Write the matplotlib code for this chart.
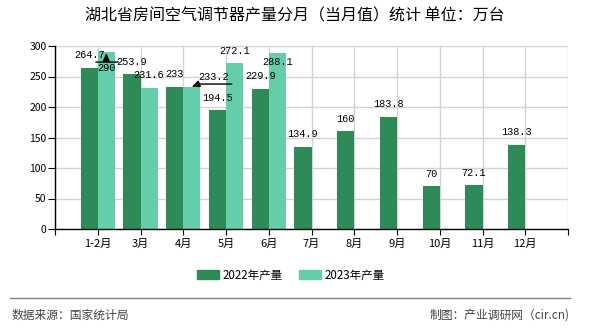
import matplotlib
matplotlib.use("Agg")
import matplotlib.pyplot as plt
import matplotlib.transforms as mtransforms
from matplotlib.patches import Rectangle
from matplotlib.lines import Line2D

plt.rcParams['font.family'] = ['Noto Sans CJK SC', 'DejaVu Sans']

categories = ['1-2月', '3月', '4月', '5月', '6月', '7月', '8月', '9月', '10月', '11月', '12月']
v2022 = [264.7, 253.9, 233, 194.5, 229.9, 134.9, 160, 183.8, 70, 72.1, 138.3]
v2023 = [290, 231.6, 233.2, 272.1, 288.1]
series_names = ['2022年产量', '2023年产量']
title = '湖北省房间空气调节器产量分月（当月值）统计 单位：万台'
source_left = '数据来源：国家统计局'
source_right = '制图：产业调研网（cir.cn)'

c22 = '#2e8b57'
c23 = '#66cdaa'

W, H, DPI = 590, 330, 100
fig = plt.figure(figsize=(W / DPI, H / DPI), dpi=DPI)
ax = fig.add_axes([55 / W, 1 - 229 / H, (568 - 55) / W, (229 - 46) / H])

bw = 0.4
x = list(range(len(categories)))
b1 = ax.bar([i - bw / 2 for i in x], v2022, width=bw, color=c22, zorder=2)
b2 = ax.bar([i + bw / 2 for i in range(len(v2023))], v2023, width=bw, color=c23, zorder=2)

ax.set_xlim(-1, len(categories))
ax.set_ylim(0, 300)
ax.set_yticks(range(0, 301, 50))
ax.set_xticks(range(-1, len(categories) + 1))
ax.set_xticklabels([''] + categories + [''])
ax.tick_params(axis='x', length=4, pad=3, labelsize=8, colors='black')
ax.tick_params(axis='y', length=5, pad=1, labelsize=7.5, colors='black')
ax.grid(True, color='#d3d3d3', linewidth=1, zorder=0)
ax.set_axisbelow(True)
for s in ['top', 'right']:
    ax.spines[s].set_visible(False)
for s in ['left', 'bottom']:
    ax.spines[s].set_color('black')
    ax.spines[s].set_linewidth(1)
    ax.spines[s].set_zorder(3)


def off(dx, dy):
    return ax.transData + mtransforms.ScaledTranslation(dx / DPI, dy / DPI, fig.dpi_scale_trans)


lab_font = dict(family=['Liberation Mono', 'DejaVu Sans Mono'], fontsize=7.4, color='black')

# default label offsets (pixels, relative to bar top centre)
for i, v in enumerate(v2022):
    bx = i - bw / 2
    ax.text(bx, v, f'{v:g}', transform=off(0, 12.5), ha='center', va='center', zorder=5, **lab_font)

special = {0: (0, -16), 2: (21.5, 10), 4: (0, -8.7)}
for i, v in enumerate(v2023):
    bx = i + bw / 2
    dx, dy = special.get(i, (0, 12.5))
    ax.text(bx, v, f'{v:g}', transform=off(dx, dy), ha='center', va='center', zorder=5, **lab_font)

# leader lines for displaced labels
i = 0
bx, v = i + bw / 2, v2023[i]
ax.annotate('', xy=(bx, v), xycoords=off(-10.5, -10), xytext=(bx, v), textcoords=off(12, -10),
            arrowprops=dict(arrowstyle='-', color='black', lw=1, shrinkA=0, shrinkB=0), zorder=6)
ax.annotate('', xy=(bx, v), xycoords=off(0, -1), xytext=(bx, v), textcoords=off(0, -10),
            arrowprops=dict(arrowstyle='-|>,head_length=0.45,head_width=0.2', color='black', lw=1,
                            shrinkA=0, shrinkB=0), zorder=6)
i = 2
bx, v = i + bw / 2, v2023[i]
ax.annotate('', xy=(bx, v), xycoords=off(6, 2.7), xytext=(bx, v), textcoords=off(40, 2.7),
            arrowprops=dict(arrowstyle='-', color='black', lw=1, shrinkA=0, shrinkB=0), zorder=6)
ax.annotate('', xy=(bx, v), xycoords=off(0, 0), xytext=(bx, v), textcoords=off(7, 2.7),
            arrowprops=dict(arrowstyle='-|>,head_length=0.45,head_width=0.2', color='black', lw=1,
                            shrinkA=0, shrinkB=0), zorder=6)

fig.text(0.5, 1 - 16 / H, title, ha='center', va='center', fontsize=11.5, color='black')

handles = [Rectangle((0, 0), 1, 1, color=c22), Rectangle((0, 0), 1, 1, color=c23)]
fig.legend(handles, series_names, loc='center', bbox_to_anchor=(291 / W, 1 - 275 / H), ncol=2,
           frameon=False, fontsize=8.3, handlelength=1.9, handleheight=0.7, handletextpad=0.35,
           columnspacing=1.4, borderpad=0)

fig.add_artist(Line2D([10 / W, 570 / W], [1 - 297.5 / H, 1 - 297.5 / H], color='#808080', lw=1,
                      transform=fig.transFigure))
fig.text(12 / W, 1 - 315.5 / H, source_left, ha='left', va='center', fontsize=8.5, color='#444444')
fig.text(570 / W, 1 - 315.5 / H, source_right, ha='right', va='center', fontsize=8.5, color='#444444')

fig.savefig('out.png', dpi=DPI, facecolor='white')
